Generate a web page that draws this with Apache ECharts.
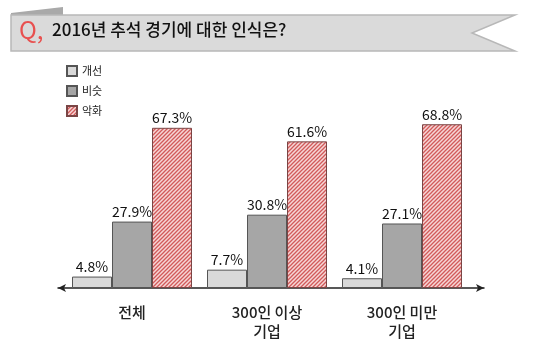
<!DOCTYPE html>
<html><head><meta charset="utf-8">
<script src="https://cdn.jsdelivr.net/npm/echarts@6/dist/echarts.min.js"></script>
<style>html,body{margin:0;padding:0;background:#fff}#c{width:540px;height:348px}</style>
</head><body><div id="c"></div>
<script>
const categories = ['전체', '300인 이상\n기업', '300인 미만\n기업'];
const seriesNames = ['개선', '비슷', '악화'];
const improve = [4.8, 7.7, 4.1];
const similar = [27.9, 30.8, 27.1];
const worse = [67.3, 61.6, 68.8];
const titleText = '2016년 추석 경기에 대한 인식은?';

const FONT = '"Noto Sans CJK KR", "Noto Sans", sans-serif';

function hatch() {
  const c = document.createElement('canvas');
  c.width = 4; c.height = 4;
  const g = c.getContext('2d');
  g.fillStyle = '#f6d6d6';
  g.fillRect(0, 0, 4, 4);
  g.strokeStyle = '#d25a5a';
  g.lineWidth = 1.3;
  g.beginPath();
  g.moveTo(-1, 5); g.lineTo(5, -1);
  g.moveTo(-1, 1); g.lineTo(1, -1);
  g.moveTo(3, 5); g.lineTo(5, 3);
  g.stroke();
  return c;
}

const chart = echarts.init(document.getElementById('c'), null, {renderer: 'canvas'});
const lbl = {show: true, position: 'top', distance: 3, formatter: '{c}%', color: '#111', fontSize: 14, fontFamily: FONT};

chart.setOption({
  animation: false,
  textStyle: {fontFamily: FONT},
  graphic: [
    {type: 'polygon', shape: {points: [[11, 15], [11, 13], [63, 7], [63, 15]]}, style: {fill: '#a9a9a9'}, z: 1},
    {type: 'polygon', shape: {points: [[11, 15], [515, 15], [472, 33], [515, 51], [11, 51]]},
      style: {fill: '#dadada', stroke: '#b8b8b8', lineWidth: 1.5}, z: 2},
    {type: 'text', left: 19, top: 18, style: {text: 'Q,', fill: '#e8504f', font: '24px ' + FONT}, z: 3},
    {type: 'text', left: 52, top: 21, style: {text: titleText, fill: '#111', font: '500 17px ' + FONT}, z: 3}
  ],
  legend: {
    data: seriesNames, orient: 'vertical', left: 66, top: 65, padding: 0, itemWidth: 10, itemHeight: 10, itemGap: 8,
    icon: 'rect', textStyle: {fontSize: 11, color: '#222', fontFamily: FONT}
  },
  grid: [
    {left: 64.5, right: 70.5, top: 119, bottom: 60},
    {left: 58, right: 56, top: 119, bottom: 60}
  ],
  xAxis: [
    {type: 'category', data: categories, gridIndex: 0,
      axisLine: {show: false}, axisTick: {show: false},
      axisLabel: {color: '#222', fontSize: 15, fontWeight: 500, margin: 15, lineHeight: 19, fontFamily: FONT}},
    {type: 'value', gridIndex: 1, min: 0, max: 1,
      axisLine: {show: true, symbol: ['arrow', 'arrow'], symbolSize: [6, 8], lineStyle: {color: '#222', width: 1.5}},
      axisTick: {show: false}, axisLabel: {show: false}, splitLine: {show: false}}
  ],
  yAxis: [
    {type: 'value', gridIndex: 0, min: 0, max: 71, show: false},
    {type: 'value', gridIndex: 1, min: 0, max: 1, show: false}
  ],
  series: [
    {name: seriesNames[0], type: 'bar', data: improve, barWidth: 40, barGap: '0%',
      itemStyle: {color: '#d9d9d9', borderColor: '#555', borderWidth: 1}, label: lbl, z: 5},
    {name: seriesNames[1], type: 'bar', data: similar, barWidth: 40, barGap: '0%',
      itemStyle: {color: '#a6a6a6', borderColor: '#555', borderWidth: 1}, label: lbl, z: 5},
    {name: seriesNames[2], type: 'bar', data: worse, barWidth: 40, barGap: '0%',
      itemStyle: {color: {image: hatch(), repeat: 'repeat'}, borderColor: '#7a4545', borderWidth: 1}, label: lbl, z: 5}
  ]
});
</script></body></html>
